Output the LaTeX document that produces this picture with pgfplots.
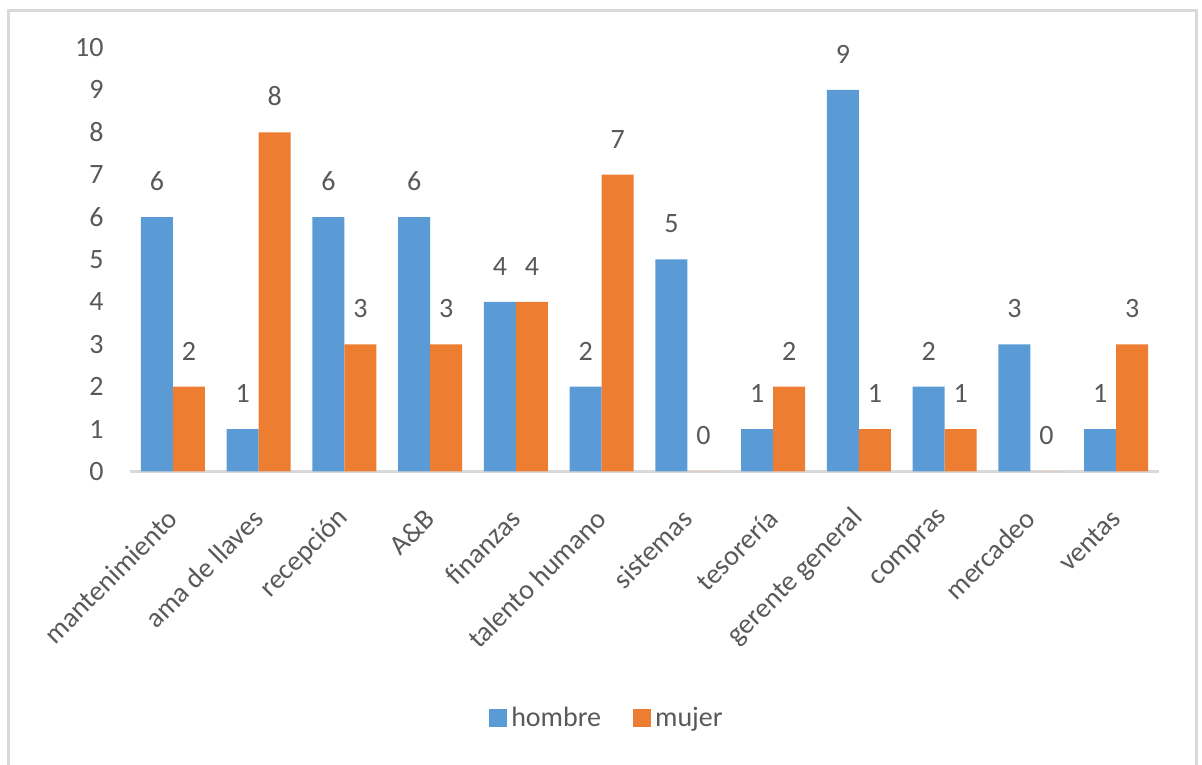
\documentclass[border=0pt]{standalone}
\usepackage{pgfplots}
\pgfplotsset{compat=1.18}
\usepackage{fontspec}
\setmainfont{Carlito}
\definecolor{hombreblue}{HTML}{5B9BD5}
\definecolor{mujerorange}{HTML}{ED7D31}
\definecolor{txtgray}{HTML}{595959}
\definecolor{linegray}{HTML}{D9D9D9}

\pgfplotstableread{
idx hombre mujer
0 6 2
1 1 8
2 6 3
3 6 3
4 4 4
5 2 7
6 5 0
7 1 2
8 9 1
9 2 1
10 3 0
11 1 3
}\datos

\begin{document}
\begin{tikzpicture}
\begin{axis}[
  scale only axis,
  width=514.5pt, height=212pt,
  ybar=0pt, bar width=16pt,
  xmin=-0.5, xmax=11.5,
  ymin=0, ymax=10,
  ytick={0,1,...,10},
  xtick=data,
  xticklabels={mantenimiento, ama de llaves, recepción, A\&B, finanzas, talento humano, sistemas, tesorería, gerente general, compras, mercadeo, ventas},
  axis x line*=bottom,
  axis y line*=left,
  x axis line style={draw=linegray, line width=1.5pt, -},
  y axis line style={draw=none},
  tick style={draw=none},
  font=\fontsize{14pt}{16pt}\selectfont,
  tick label style={text=txtgray},
  /pgf/number format/assume math mode=true,
  yticklabel style={anchor=east, inner sep=0pt, xshift=-13pt},
  xticklabel style={xshift=0pt, yshift=-17pt, rotate=45, anchor=east, inner sep=0pt},
  nodes near coords,
  every node near coord/.append style={text=txtgray, inner sep=0pt, yshift=13pt,
    /pgf/number format/assume math mode=true},
  clip=false,
  legend style={at={(rel axis cs:0.4645,-0.5814)}, anchor=center, draw=none,
    legend columns=2, text=txtgray, font=\fontsize{14pt}{16pt}\selectfont,
    /tikz/every even column/.append style={column sep=14pt}},
  legend image code/.code={\fill[#1] (0pt,-4.5pt) rectangle (9pt,4.5pt);},
]
\addplot[fill=hombreblue, draw=none] table[x=idx, y=hombre] {\datos};
\addplot[fill=mujerorange, draw=none] table[x=idx, y=mujer] {\datos};
\legend{hombre, mujer}
\coordinate (tl) at (rel axis cs:-0.12634,1.11203);
\coordinate (br) at (rel axis cs:1.04179,-0.69222);
\coordinate (ftl) at (rel axis cs:-0.1176,1.0884);
\coordinate (ftr) at (rel axis cs:1.0360,1.0884);
\coordinate (fbl) at (rel axis cs:-0.1176,-0.69222);
\coordinate (fbr) at (rel axis cs:1.0360,-0.69222);
\end{axis}
\draw[linegray, line width=1.5pt] (fbl) -- (ftl) -- (ftr) -- (fbr);
\pgfresetboundingbox
\path[use as bounding box] (tl) rectangle (br);
\end{tikzpicture}
\end{document}
